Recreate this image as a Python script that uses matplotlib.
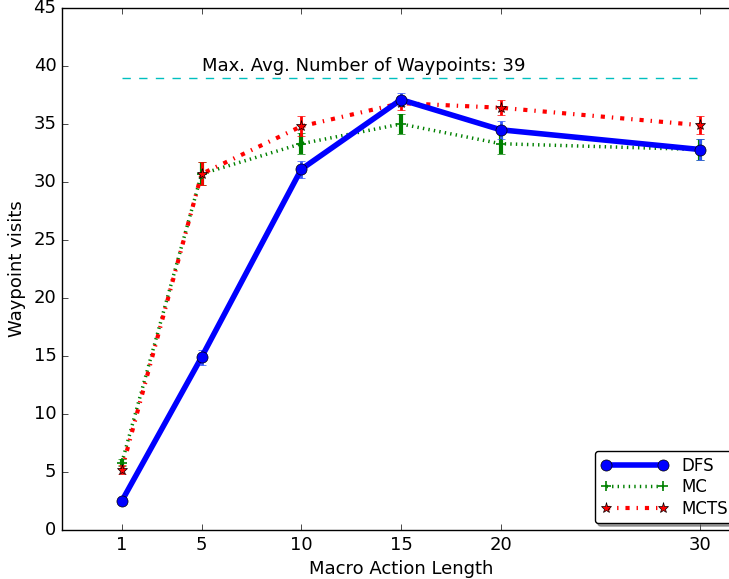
import matplotlib
matplotlib.use("Agg")
import matplotlib.pyplot as plt

plt.style.use("classic")

# macro action lengths on the x axis
macro_lengths = [1, 5, 10, 15, 20, 30]

dfs_mean = [2.5, 14.9, 31.1, 37.1, 34.5, 32.8]
dfs_err = [0.15, 0.65, 0.75, 0.55, 0.8, 0.9]

mc_mean = [5.8, 30.7, 33.3, 35.0, 33.3, 32.8]
mc_err = [0.3, 1.0, 0.9, 0.85, 0.9, 0.9]

mcts_mean = [5.2, 30.7, 34.8, 36.8, 36.4, 34.9]
mcts_err = [0.4, 1.0, 0.85, 0.6, 0.65, 0.75]

max_waypoints = 39

fig = plt.figure(figsize=(7.29, 5.79), dpi=100, facecolor="white")
ax = fig.add_axes([62 / 729, 49 / 579, (740 - 62) / 729, (530 - 8) / 579])

# error bars first, lines with markers on top (legend only shows the lines)
ax.errorbar(macro_lengths, dfs_mean, yerr=dfs_err, fmt="none", elinewidth=2,
            capsize=3, ecolor="#3355ff", zorder=3)
ax.errorbar(macro_lengths, mc_mean, yerr=mc_err, fmt="none", elinewidth=3,
            capsize=3, ecolor="g", zorder=2)
ax.errorbar(macro_lengths, mcts_mean, yerr=mcts_err, fmt="none", elinewidth=2,
            capsize=3, ecolor="r", zorder=2)

ax.plot(macro_lengths, dfs_mean, "b-o", linewidth=4, markersize=8,
        label="DFS", zorder=4)
ax.plot(macro_lengths, mc_mean, "g:+", linewidth=2.5, markersize=7,
        markeredgewidth=1.2, label="MC", zorder=3)
ax.plot(macro_lengths, mcts_mean, "r-.*", linewidth=3, markersize=8,
        markeredgecolor="k", label="MCTS", zorder=3)

ax.plot([macro_lengths[0], macro_lengths[-1]], [max_waypoints, max_waypoints],
        "c--", linewidth=1)
ax.text(5, 39.6, "Max. Avg. Number of Waypoints: %d" % max_waypoints, fontsize=13)

ax.set_xlim(-2, 32)
ax.set_ylim(0, 45)
ax.set_xticks(macro_lengths)
ax.set_yticks(range(0, 46, 5))
ax.tick_params(labelsize=13)
ax.set_xlabel("Macro Action Length", fontsize=13)
ax.set_ylabel("Waypoint visits", fontsize=13)

ax.legend(loc="lower right", numpoints=2, fancybox=True, shadow=True,
          fontsize=12, handlelength=4, labelspacing=0.2, borderpad=0.35,
          borderaxespad=0.4)

fig.savefig("out.png", dpi=100, facecolor="white")
